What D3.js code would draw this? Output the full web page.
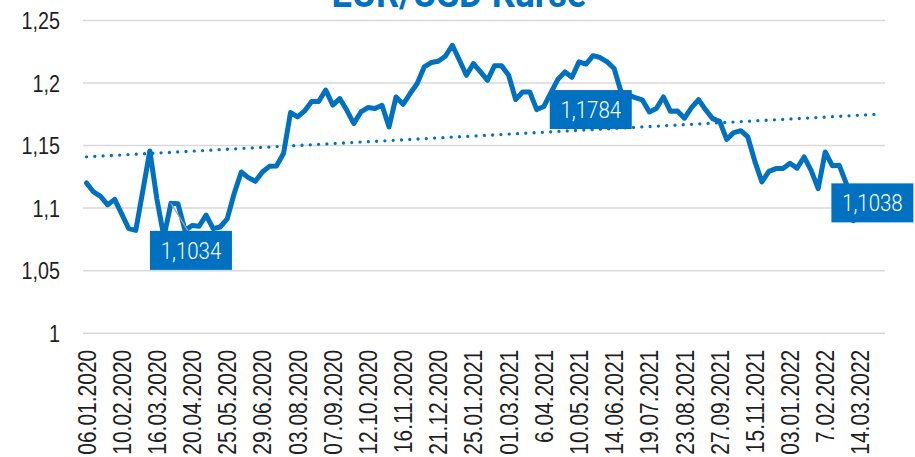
<!DOCTYPE html>
<html><head><meta charset="utf-8">
<script src="https://cdn.jsdelivr.net/npm/d3@7"></script>
<style>
body{margin:0;background:#fff;}
svg{display:block;font-family:Roboto,"Liberation Sans",sans-serif;}
</style></head><body>
<svg id="chart" width="915" height="457"></svg>
<script>
const title = "EUR/USD Kurse";
const tickLabels = ["06.01.2020","10.02.2020","16.03.2020","20.04.2020","25.05.2020","29.06.2020",
  "03.08.2020","07.09.2020","12.10.2020","16.11.2020","21.12.2020","25.01.2021","01.03.2021",
  "6.04.2021","10.05.2021","14.06.2021","19.07.2021","23.08.2021","27.09.2021","15.11.2021",
  "03.01.2022","7.02.2022","14.03.2022"];
const tickEvery = 5;
const categoryCount = 114;
const rates = [
  1.1197,1.1125,1.1090,1.1022,1.1066,1.0950,1.0832,1.0818,1.1133,1.1453,
  1.1070,1.0765,1.1034,1.1030,1.0818,1.0857,1.0851,1.0940,1.0832,1.0845,
  1.0910,1.1115,1.1285,1.1240,1.1210,1.1285,1.1330,1.1333,1.1432,1.1760,
  1.1725,1.1773,1.1848,1.1848,1.1940,1.1820,1.1872,1.1778,1.1672,1.1765,
  1.1800,1.1792,1.1818,1.1645,1.1885,1.1826,1.1912,1.1992,1.2125,1.2160,
  1.2170,1.2210,1.2298,1.2180,1.2058,1.2152,1.2085,1.2018,1.2135,1.2135,
  1.2058,1.1864,1.1925,1.1925,1.1784,1.1808,1.1918,1.2025,1.2085,1.2042,
  1.2165,1.2148,1.2215,1.2200,1.2165,1.2112,1.1920,1.1900,1.1880,1.1862,
  1.1765,1.1792,1.1885,1.1770,1.1772,1.1715,1.1800,1.1864,1.1782,1.1712,
  1.1690,1.1545,1.1600,1.1615,1.1565,1.1370,1.1205,1.1290,1.1312,1.1312,
  1.1355,1.1315,1.1405,1.1298,1.1152,1.1445,1.1335,1.1338,1.1192,1.0895,
  1.1038,null,null,null];
const yTicks = [1, 1.05, 1.1, 1.15, 1.2, 1.25];
const trendIdx = [0, 113];
const trendVals = [1.1406, 1.1748];
const callouts = [
  {i: 12, text: "1,1034", dx: 20, dy: 47, leader: true},
  {i: 64, text: "1,1784", dx: 54, dy: 0, leader: false},
  {i: 110, text: "1,1038", dx: 12, dy: 0, leader: false}
];

const blue = "#0070C0";
const condense = 0.84;
const svg = d3.select("#chart");
const M = {left: 83, right: 885, top: 20, bottom: 332.7};

const x = d3.scaleBand().domain(d3.range(categoryCount)).range([M.left, M.right]);
const cx = i => x(i) + x.bandwidth() / 2;
const y = d3.scaleLinear().domain([1, 1.25]).range([M.bottom, M.top]);
const loc = d3.formatLocale({decimal: ",", thousands: ".", grouping: [3], currency: ["", "€"]});
const fmt = loc.format("~g");

// title
svg.append("text").attr("x", 459).attr("y", 7).attr("text-anchor", "middle")
  .attr("font-weight", "bold").attr("font-size", 40).attr("fill", blue)
  .attr("textLength", 255).attr("lengthAdjust", "spacingAndGlyphs").text(title);

// y axis + grid
const ya = svg.append("g").attr("transform", `translate(${M.left},0)`)
  .call(d3.axisLeft(y).tickValues(yTicks).tickFormat(fmt).tickSize(-(M.right - M.left)).tickPadding(23));
ya.select(".domain").remove();
ya.selectAll(".tick line").attr("stroke", "#d9d9d9").attr("stroke-width", 1.5);
ya.selectAll(".tick text").attr("font-size", 23.5).attr("fill", "#1f1f1f").attr("font-family", null)
  .attr("x", 0).attr("dy", "0.36em").attr("transform", `translate(-23,0) scale(${condense},1)`);

// x axis
const xa = svg.append("g").attr("transform", `translate(0,${M.bottom})`)
  .call(d3.axisBottom(x).tickValues(d3.range(0, tickLabels.length * tickEvery, tickEvery))
    .tickFormat(i => tickLabels[i / tickEvery]).tickSize(0));
xa.select(".domain").remove();
xa.selectAll(".tick text").attr("font-size", 25).attr("fill", "#1f1f1f").attr("font-family", null)
  .attr("transform", `rotate(-90) translate(-17,0) scale(${condense},1)`).attr("text-anchor", "end")
  .attr("x", 0).attr("y", 0).attr("dy", "0.36em");

// trend
svg.append("path")
  .attr("d", d3.line().x((d, k) => cx(trendIdx[k])).y(d => y(d))(trendVals))
  .attr("fill", "none").attr("stroke", blue).attr("stroke-width", 3.3)
  .attr("stroke-linecap", "round").attr("stroke-dasharray", "0 8.3");

// series line
svg.append("path")
  .attr("d", d3.line().defined(d => d != null).x((d, i) => cx(i)).y(d => y(d))(rates))
  .attr("fill", "none").attr("stroke", blue).attr("stroke-width", 5)
  .attr("stroke-linejoin", "round").attr("stroke-linecap", "round");

// callouts
const bw = 82, bh = 39;
callouts.forEach(c => {
  const px = cx(c.i), py = y(rates[c.i]);
  const bx = px + c.dx, by = py + c.dy;
  if (c.leader) {
    svg.append("line").attr("x1", px).attr("y1", py).attr("x2", bx - 3).attr("y2", by - bh / 2)
      .attr("stroke", "#a6a6a6").attr("stroke-width", 1.2);
  }
  svg.append("rect").attr("x", bx - bw / 2).attr("y", by - bh / 2).attr("width", bw).attr("height", bh)
    .attr("fill", blue);
  svg.append("text").attr("transform", `translate(${bx},${by}) scale(0.87,1)`)
    .attr("dy", "0.36em").attr("text-anchor", "middle").attr("font-weight", 300)
    .attr("font-size", 23.5).attr("fill", "#fff").text(c.text);
});
</script></body></html>
